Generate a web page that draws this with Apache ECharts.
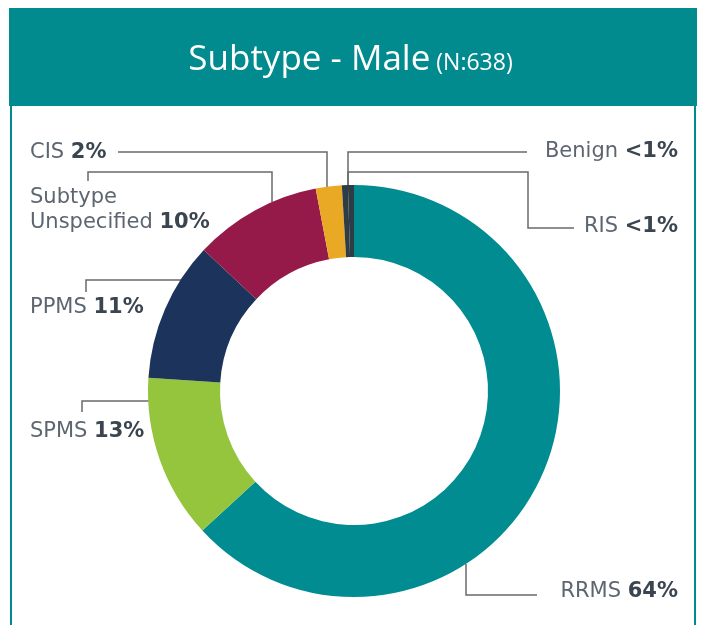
<!DOCTYPE html>
<html>
<head>
<meta charset="utf-8">
<script src="https://cdn.jsdelivr.net/npm/echarts@6/dist/echarts.min.js"></script>
<style>
  html, body { margin: 0; padding: 0; background: #fff; }
  #main { width: 701px; height: 625px; }
</style>
</head>
<body>
<div id="main"></div>
<script>
// subtype counts, male patients (N:638)
const categories = ['RRMS', 'SPMS', 'PPMS', 'Subtype\nUnspecified', 'CIS', 'RIS', 'Benign'];
const values = [403, 82, 70, 64, 13, 3, 3];
const shareLabels = ['64%', '13%', '11%', '10%', '2%', '<1%', '<1%'];
const colors = ['#018c91', '#95c43d', '#1c345c', '#951a4a', '#e9a924', '#2e3c46', '#2e3c46'];

// where each label sits and how its leader line runs (hand placed, as in the original)
const labelSpots = [
  { x: 678, y: 592, align: 'right', line: [[466, 564], [466, 595], [537, 595]] },
  { x: 30, y: 432, align: 'left', line: [[149, 401], [82, 401], [82, 412]] },
  { x: 30, y: 308, align: 'left', line: [[181, 280], [86, 280], [86, 292]] },
  { x: 30, y: 210, align: 'left', line: [[272, 202], [272, 172], [88, 172], [88, 181]] },
  { x: 30, y: 153, align: 'left', line: [[327, 187], [327, 152], [118, 152]] },
  { x: 678, y: 227, align: 'right', line: [[348, 186], [348, 172], [528, 172], [528, 228], [574, 228]] },
  { x: 678, y: 152, align: 'right', line: [[348, 186], [348, 152], [527, 152]] }
];

const chart = echarts.init(document.getElementById('main'), null, { renderer: 'canvas' });

const seriesData = categories.map(function (name, i) {
  return { name: name, value: values[i], itemStyle: { color: colors[i] } };
});

const option = {
  backgroundColor: '#fff',
  animation: false,
  title: {
    left: 'center',
    top: 34,
    padding: [0, 0, 0, 8],
    text: '{a|Subtype - Male}{b| (N:638)}',
    textStyle: {
      fontWeight: 'normal',
      rich: {
        a: { fontFamily: 'Open Sans', fontWeight: 'normal', fontSize: 35, color: '#fff', lineHeight: 44, verticalAlign: 'bottom' },
        b: { fontFamily: 'Open Sans', fontWeight: 'normal', fontSize: 23, color: '#fff', lineHeight: 44, verticalAlign: 'bottom', padding: [0, 0, 3, 0] }
      }
    }
  },
  graphic: [
    { type: 'rect', shape: { x: 9, y: 8, width: 688, height: 98 }, style: { fill: '#018b8f' }, z: -1 },
    { type: 'rect', shape: { x: 10, y: 106, width: 2, height: 519 }, style: { fill: '#018b8f' }, z: -1 },
    { type: 'rect', shape: { x: 694, y: 106, width: 2, height: 519 }, style: { fill: '#018b8f' }, z: -1 }
  ],
  series: [{
    type: 'pie',
    center: [354, 391],
    radius: [134, 206],
    startAngle: 90,
    clockwise: true,
    avoidLabelOverlap: false,
    emphasis: { disabled: true },
    data: seriesData,
    label: {
      show: true,
      fontFamily: 'DejaVu Sans',
      fontSize: 21,
      lineHeight: 25,
      color: '#5d6670',
      formatter: function (p) {
        const parts = p.name.split('\n');
        const last = parts.pop();
        const head = parts.map(function (s) { return '{n|' + s + '}'; });
        head.push('{n|' + last + ' }{v|' + shareLabels[p.dataIndex] + '}');
        return head.join('\n');
      },
      rich: {
        n: { fontFamily: 'DejaVu Sans', fontSize: 21, lineHeight: 25, color: '#5d6670' },
        v: { fontFamily: 'DejaVu Sans', fontSize: 21, lineHeight: 25, color: '#3a4550', fontWeight: 'bold' }
      }
    },
    labelLine: {
      show: true,
      lineStyle: { color: '#6a6a6a', width: 1.5 }
    },
    labelLayout: function (params) {
      const s = labelSpots[params.dataIndex];
      return {
        x: s.x,
        y: s.y,
        align: s.align,
        verticalAlign: 'middle',
        labelLinePoints: s.line
      };
    }
  }]
};

chart.setOption(option);
</script>
</body>
</html>
